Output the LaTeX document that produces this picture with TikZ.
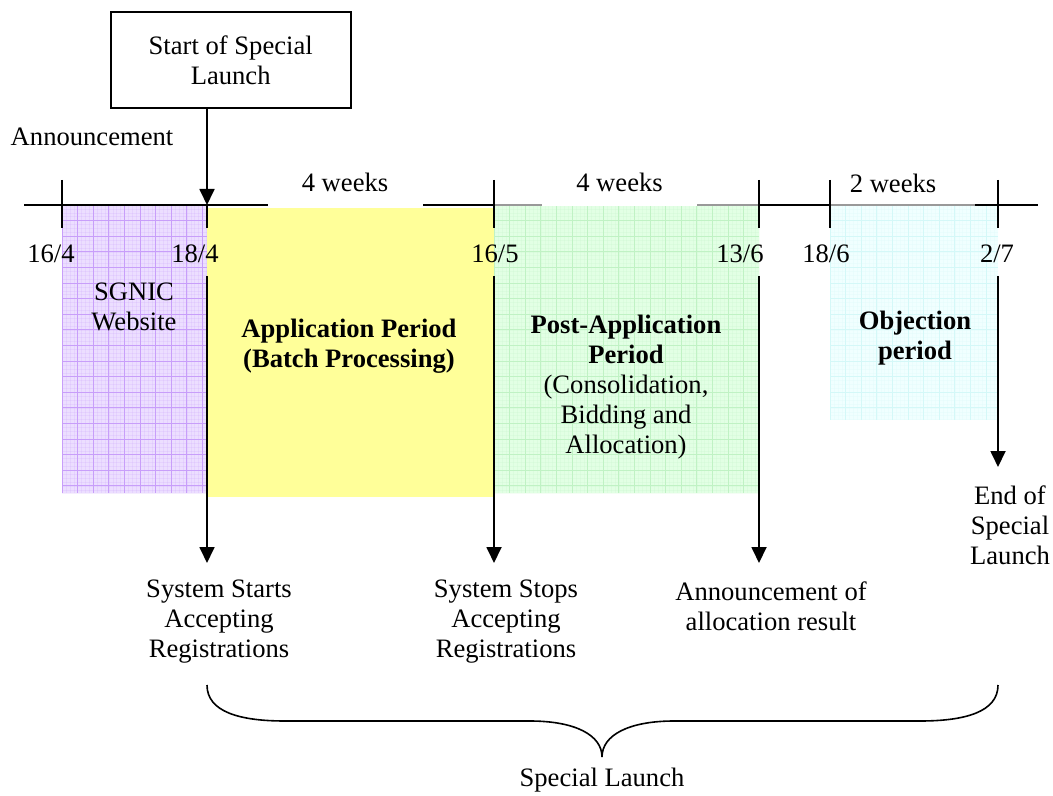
\documentclass[tikz,border=0pt]{standalone}
\usepackage{fontspec}
\setmainfont{Liberation Serif}
\usetikzlibrary{arrows.meta,positioning}
\definecolor{lilac}{RGB}{236,222,255}
\definecolor{lilacgrid}{RGB}{200,158,250}
\definecolor{lemon}{RGB}{255,255,153}
\definecolor{mint}{RGB}{226,255,228}
\definecolor{mintgrid}{RGB}{192,242,196}
\definecolor{ice}{RGB}{240,255,255}
\definecolor{icegrid}{RGB}{212,248,248}

\tikzset{
    txt/.style={font=\fontsize{13.3}{15}\selectfont, align=center, inner sep=0pt},
    arr/.style={line width=0.9pt, -{Triangle[length=8pt,width=7.5pt]}},
    tickline/.style={line width=0.9pt},
    weeks/.style={txt, fill=white, anchor=south, minimum height=23.5pt,
                  minimum width=77.5pt},
}

% shaded period with a fine grid
\newcommand{\periodbox}[6]{%
    \fill[#5] (#1,#2) rectangle (#3,#4);
    \begin{scope}
        \clip (#1,#2) rectangle (#3,#4);
        \foreach \g in {0,3.9,...,300} {
            \draw[#6, line width=0.2pt, opacity=0.18] (#1+\g,#2) -- (#1+\g,#4);
            \draw[#6, line width=0.2pt, opacity=0.18] (#1,#2+\g) -- (#3,#2+\g);
        }
        \foreach \g in {0,15.6,...,300} {
            \draw[#6, line width=0.4pt] (#1+\g,#2) -- (#1+\g,#4);
            \draw[#6, line width=0.4pt] (#1,#2+\g) -- (#3,#2+\g);
        }
    \end{scope}}

\begin{document}
\begin{tikzpicture}[x=0.5pt, y=-0.5pt]
        \useasboundingbox (0,0) rectangle (1053,796);

        % periods
        \periodbox{62}{205}{207}{493}{lilac}{lilacgrid}
        \fill[lemon] (207,208) rectangle (494,497);
        \periodbox{494}{205}{759}{493}{mint}{mintgrid}
        \periodbox{830}{205}{998}{420}{ice}{icegrid}

        % time line
        \coordinate (tl) at (24,205);
        \coordinate (tr) at (1038,205);
        \draw[tickline] (tl) -- (tr);
        \draw[tickline, gray!80] (494,205) -- (759,205);
        \draw[tickline, gray!80] (830,205) -- (975,205);

        \foreach \x/\n in {62/a, 207/b, 494/c, 759/d, 830/e, 998/f}
            \coordinate (d\n) at (\x,205);
        \foreach \n in {a, c, d, e, f}
            \draw[tickline] ([yshift=12.5pt]d\n) -- ([yshift=-11.5pt]d\n);
        \draw[tickline] (db) -- ([yshift=-11.5pt]db);

        \node[weeks] (wkA) at (345,206.5) {4 weeks};
        \node[weeks] (wkB) at (619.5,206.5) {4 weeks};
        \node[txt] (wkC) at (893,183) {2 weeks};

        % dates
        \foreach \x/\d in {51/16\slash 4, 195/18\slash 4, 495/16\slash 5,
                           740/13\slash 6, 826/18\slash 6, 997/2\slash 7}
            \node[txt] at (\x,254) {\d};

        % start box
        \node[txt, draw, line width=0.8pt, minimum width=120pt,
              minimum height=48pt] (start) at (230.7,60) {Start of Special\\Launch};
        \draw[arr] (start.south -| db) -- (db);
        \node[txt] (ann) at (92,137) {Announcement};

        % period texts
        \node[txt] (sgnic) at (134,307) {SGNIC\\Website};
        \node[txt, font=\fontsize{13.3}{15}\selectfont\bfseries] (app) at (349,346)
            {Application Period\\(Batch Processing)};
        \node[txt] (post) at (626,387) {\textbf{Post-Application}\\\textbf{Period}\\
            (Consolidation,\\Bidding and\\Allocation)};
        \node[txt, font=\fontsize{13.3}{15}\selectfont\bfseries] (obj) at (915,338)
            {Objection\\period};

        % events
        \foreach \n/\y in {b/563, c/563, d/563, f/467}
            \draw[arr] (d\n |- 0,276) -- (d\n |- 0,\y);
        \node[txt] (sysstart) at (219,622) {System Starts\\Accepting\\Registrations};
        \node[txt] (sysstop) at (506,622) {System Stops\\Accepting\\Registrations};
        \node[txt] (result) at (771,606) {Announcement of\\allocation result};
        \node[txt] (endsl) at (1010,525) {End of\\Special\\Launch};

        % special launch brace
        \draw[line width=0.8pt] (207,685) .. controls (207,712) and (240,721) .. (285,721)
            -- (530,721) .. controls (575,721) and (602,735) .. (602,757)
            .. controls (602,735) and (629,721) .. (674,721)
            -- (920,721) .. controls (965,721) and (998,712) .. (998,685);
        \node[txt] (sl) at (602,780) {Special Launch};

    \end{tikzpicture}
\end{document}
